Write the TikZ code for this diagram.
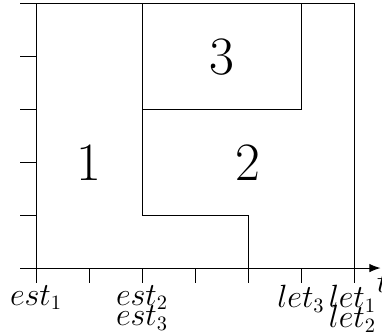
\documentclass[tikz,border=0pt]{standalone}
\usetikzlibrary{arrows.meta}
\newcommand{\mylblfont}{\fontsize{16}{10.8}\selectfont\setlength{\lineskiplimit}{-30pt}}
\begin{document}
\begin{tikzpicture}[x=1cm,y=1cm,line width=0.5pt,
  lbl/.style={font=\mylblfont,inner sep=0.5pt,anchor=north,align=center},
  num/.style={font=\fontsize{29}{32}\selectfont,inner sep=0pt}]
\useasboundingbox (-0.679,-1.189) rectangle (6.528,5.057);
% axis
\coordinate (axs) at (-0.3,0);
\coordinate (axe) at (6.5,0);
\draw[-{Latex[length=2.1mm,width=1.6mm]}] (axs) -- (axe);
\foreach \i in {0,...,6} { \draw (\i,0) -- (\i,-0.28); }
\foreach \j in {1,...,4} { \draw (-0.3,\j) -- (0,\j); }
% frame
\draw (-0.3,5) -- (6,5);
\draw (0,0) -- (0,5);
\draw (6,0) -- (6,5);
% blocks
\draw (2,5) -- (2,1) -- (4,1) -- (4,0);
\draw (2,3) -- (5,3) -- (5,5);
% numbers
\node[num] (n1) at (1,1.98) {1};
\node[num] (n2) at (4,1.98) {2};
\node[num] (n3) at (3.5,3.98) {3};
% axis labels
\node[lbl] (e1) at (0,-0.3) {$est_1$};
\node[lbl] (e23) at (2,-0.3) {$est_2$\\$est_3$};
\node[lbl] (l3) at (5,-0.3) {$let_3$};
\node[lbl] (l12) at (5.97,-0.3) {$let_1$\\$let_2$};
\node[font=\fontsize{16}{11}\selectfont,inner sep=0pt,anchor=west] (t) at (6.42,-0.28) {$t$};
\end{tikzpicture}
\end{document}
